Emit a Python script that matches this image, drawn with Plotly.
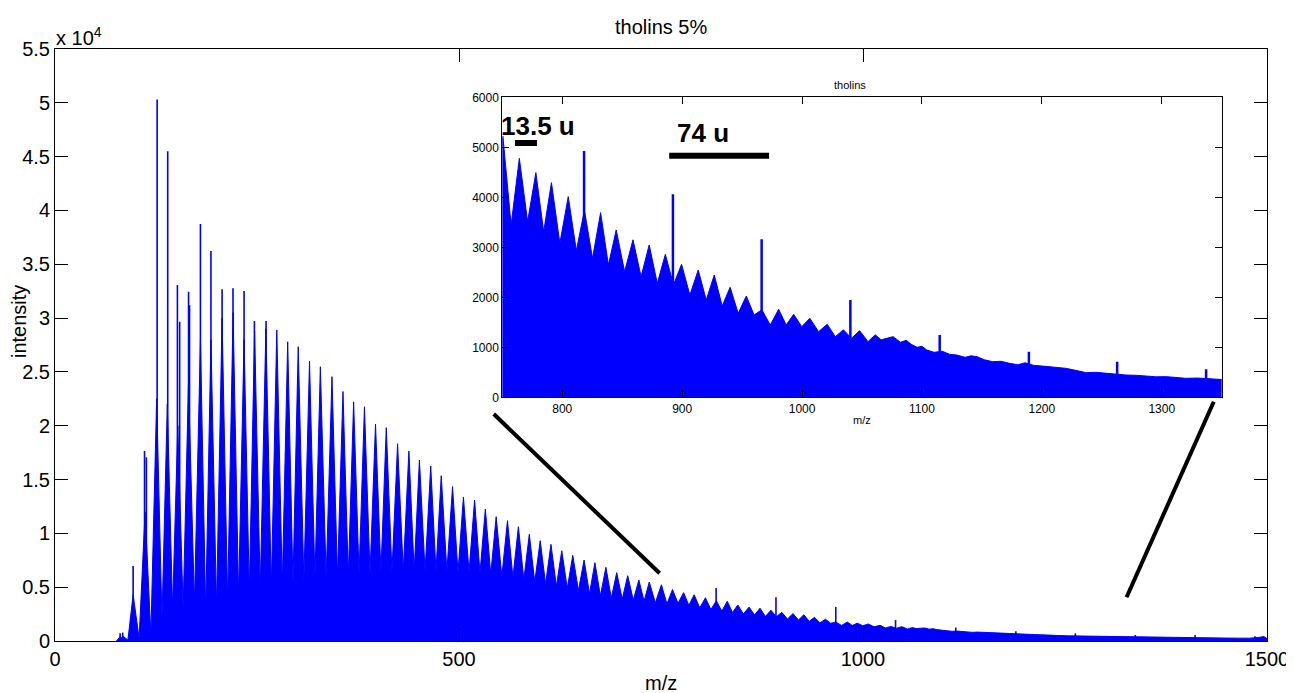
import plotly.graph_objects as go

# ---------------- data ----------------
# apex of each CH2-spaced cluster envelope (m/z, intensity)
cluster_mz = [80.6, 83.8, 96.7, 111.5, 125.8, 139.0, 152.0, 165.2, 180.0, 193.0, 206.8, 220.4, 234.0, 247.0, 261.0,
              274.5, 288.0, 301.0, 315.0, 328.4, 342.8, 356.4, 369.6, 383.0, 396.7, 410.0, 424.0, 438.0, 451.0, 465.0,
              478.0, 492.0, 505.5, 519.3, 532.6, 546.0, 560.0, 573.5, 587.0, 600.5, 613.8, 627.2, 640.8, 654.8, 668.2,
              681.8, 695.2, 708.8, 722.6, 735.5, 750.5, 764.2, 778.0, 791.0, 805.0, 818.5, 832.0, 845.0, 859.0, 872.5,
              886.0, 899.5, 913.4, 926.8, 940.0, 953.5, 966.5, 980.5, 993.0, 1006.5, 1021.0, 1034.5, 1048.0]
cluster_int = [400, 450, 4300, 12000, 22500, 22000, 20000, 24000, 28000, 28000, 30000, 30500, 28000, 28800, 29000,
               28900, 27800, 27340, 26010, 25480, 24560, 23180, 22220, 21760, 20160, 19820, 18330, 17650, 16815, 16260,
               15360, 14340, 13380, 13100, 12260, 11550, 11180, 10620, 9910, 9320, 8980, 8390, 7960, 7525, 7275,
               6850, 6345, 6066, 5667, 5481, 5220, 4780, 4493, 4293, 4013, 3740, 3693, 3347, 3150, 3047,
               2860, 2660, 2546, 2446, 2200, 2026, 1750, 1760, 1660, 1580, 1460, 1350, 1333]
# intensity of the valley between consecutive clusters
valley_int = [250, 100, 250, 600, 2000, 3000, 3000, 3500, 2800, 3200, 3800, 4200,
              4500, 4800, 5000, 5200, 5400, 5600, 5800, 5900, 6000, 6100, 6200, 6300,
              6400, 6400, 6500, 6500, 6500, 6500, 6500, 6400, 6400, 6300, 6200, 6000,
              5900, 5700, 5500, 5300, 5100, 4900, 4700, 4400, 4200, 4000, 3900, 3800,
              3700, 3550, 3446, 3513, 3313, 3080, 2933, 2780, 2646, 2513, 2413, 2280,
              2246, 2046, 1946, 1826, 1680, 1646, 1446, 1446, 1413, 1313, 1213, 1180]
# unresolved high-mass tail
tail_mz = [1055, 1061, 1066, 1071, 1076, 1082, 1087, 1091, 1096, 1100, 1104, 1110, 1117, 1123, 1129,
           1136, 1141, 1146, 1152, 1159, 1166, 1173, 1180, 1186, 1193, 1198, 1204, 1212, 1220, 1228,
           1237, 1245, 1254, 1262, 1270, 1279, 1287, 1295, 1304, 1312, 1320, 1330, 1340, 1348, 1360,
           1375, 1390, 1405, 1420, 1435, 1450, 1465, 1478, 1490, 1496, 1500]
tail_int = [1113, 1250, 1150, 1180, 1213, 1100, 1140, 1060, 1000, 1020, 946, 900, 920, 860, 846,
            800, 830, 813, 750, 713, 720, 680, 650, 690, 640, 630, 613, 600, 580, 540,
            493, 500, 480, 470, 446, 440, 426, 410, 413, 400, 380, 385, 370, 346, 330,
            320, 310, 300, 290, 280, 270, 265, 260, 330, 420, 220]
# narrow isolated peaks (tall spikes at low mass, 74 u series at high mass)
spike_mz = [80.6, 83.8, 94.2, 96.7, 110.8, 113.1, 126.4, 139.5, 151.5, 154.3, 165.3, 166.5, 180.0, 193.0,
            206.8, 220.3, 234.0, 246.8, 261.2, 818.2, 892.3, 966.3, 1040.3, 1114.8, 1189.2, 1262.8,
            1337.0, 1411.0, 1485.0]
spike_int = [715, 780, 2100, 6970, 17650, 17065, 50300, 45500, 33070, 29660, 32450, 31200, 38740, 36230,
             32670, 32770, 32515, 29730, 29730, 4927, 4060, 3160, 1946, 1246, 913, 713,
             560, 560, 450]

main_xticks = [0, 500, 1000, 1500]
main_yticks = [0, 5000, 10000, 15000, 20000, 25000, 30000, 35000, 40000, 45000, 50000, 55000]
main_yticklabels = ["0", "0.5", "1", "1.5", "2", "2.5", "3", "3.5", "4", "4.5", "5", "5.5"]
inset_xticks = [800, 900, 1000, 1100, 1200, 1300]
inset_yticks = [0, 1000, 2000, 3000, 4000, 5000, 6000]

# ---------------- build profile ----------------
prof_x = [76.0]
prof_y = [0.0]
for i, (c, h) in enumerate(zip(cluster_mz, cluster_int)):
    prof_x.append(c)
    prof_y.append(h)
    if i < len(valley_int):
        prof_x.append((c + cluster_mz[i + 1]) / 2.0)
        prof_y.append(valley_int[i])
prof_x += tail_mz
prof_y += tail_int

sp_x, sp_y = [], []
for s, h in zip(spike_mz, spike_int):
    sp_x += [s, s, None]
    sp_y += [0, h, None]

BLUE = "#0000FF"
FONT = "Liberation Sans, Arial, sans-serif"
W, H = 1294, 693
OFF = 8  # page body margin offset
# plot-area box in reference pixels
PX0, PX1, PY0, PY1 = 55, 1267, 49, 641
L, T = PX0 - OFF, PY0 - OFF
R, B = W - (PX1 - OFF), H - (PY1 - OFF)


def fx(px):
    return (px - PX0) / (PX1 - PX0)


def fy(py):
    return (PY1 - py) / (PY1 - PY0)


fig = go.Figure()
fig.add_trace(go.Scatter(x=prof_x, y=prof_y, mode="lines", line=dict(color=BLUE, width=1),
                         fill="tozeroy", fillcolor=BLUE, xaxis="x", yaxis="y", hoverinfo="skip"))
fig.add_trace(go.Scatter(x=sp_x, y=sp_y, mode="lines", line=dict(color=BLUE, width=1.6),
                         xaxis="x", yaxis="y", hoverinfo="skip"))
fig.add_trace(go.Scatter(x=prof_x, y=prof_y, mode="lines", line=dict(color=BLUE, width=1),
                         fill="tozeroy", fillcolor=BLUE, xaxis="x2", yaxis="y2", hoverinfo="skip"))
fig.add_trace(go.Scatter(x=sp_x, y=sp_y, mode="lines", line=dict(color=BLUE, width=2.5),
                         xaxis="x2", yaxis="y2", hoverinfo="skip"))

ax_common = dict(showgrid=False, zeroline=False, showline=True, linecolor="black", linewidth=1,
                 ticks="inside", mirror="ticks", tickcolor="black", tickwidth=1, automargin=False)

# inset pixel box (reference pixels)
IX0, IX1, IY0, IY1 = 502.3, 1221.7, 97.3, 397.3

fig.update_layout(
    width=W, height=H,
    margin=dict(l=L, r=R, t=T, b=B, autoexpand=False),
    paper_bgcolor="white", plot_bgcolor="white",
    showlegend=False,
    font=dict(family=FONT, color="black"),
    xaxis=dict(range=[0, 1500], tickvals=main_xticks, ticklen=13, tickfont=dict(size=20),
               domain=[0, 1], anchor="y", **ax_common),
    yaxis=dict(range=[0, 55000], tickvals=main_yticks, ticktext=main_yticklabels, ticklen=13,
               tickfont=dict(size=20), domain=[0, 1], anchor="x", **ax_common),
    xaxis2=dict(range=[750, 1350], tickvals=inset_xticks, ticklen=7, tickfont=dict(size=12),
                domain=[fx(IX0), fx(IX1)], anchor="y2", **ax_common),
    yaxis2=dict(range=[0, 6000], tickvals=inset_yticks, ticklen=7, tickfont=dict(size=12),
                domain=[fy(IY1), fy(IY0)], anchor="x2", **ax_common),
)

ann = [
    dict(text="tholins 5%", x=fx(661), y=fy(27), font=dict(size=20)),
    dict(text="x 10<sup>4</sup>", x=fx(54), y=fy(36), xanchor="left", font=dict(size=20)),
    dict(text="intensity", x=fx(19), y=fy(322), textangle=-90, font=dict(size=20)),
    dict(text="m/z", x=fx(661), y=fy(683), font=dict(size=20)),
    dict(text="tholins", x=fx(850), y=fy(85), font=dict(size=11)),
    dict(text="m/z", x=fx(862), y=fy(420), font=dict(size=11)),
]
for a in ann:
    a.setdefault("xanchor", "center")
    fig.add_annotation(xref="paper", yref="paper", yanchor="middle", showarrow=False, **a)

fig.add_annotation(text="<b>13.5 u</b>", xref="x2", yref="y2", x=779.5, y=5420, showarrow=False,
                   font=dict(size=26, family=FONT))
fig.add_annotation(text="<b>74 u</b>", xref="x2", yref="y2", x=917.0, y=5280, showarrow=False,
                   font=dict(size=26, family=FONT))

# scale bars inside the inset
fig.add_shape(type="line", xref="x2", yref="y2", x0=760.6, x1=778.9, y0=5086, y1=5086,
              line=dict(color="black", width=6))
fig.add_shape(type="line", xref="x2", yref="y2", x0=889.2, x1=972.5, y0=4832, y1=4832,
              line=dict(color="black", width=6))
# zoom connector lines
fig.add_shape(type="line", xref="x", yref="y", x0=543.0, y0=21090, x1=748.3, y1=6290,
              line=dict(color="black", width=4))
fig.add_shape(type="line", xref="x", yref="y", x0=1434.1, y0=22230, x1=1326.2, y1=4060,
              line=dict(color="black", width=4))

fig.write_html("out.html")
